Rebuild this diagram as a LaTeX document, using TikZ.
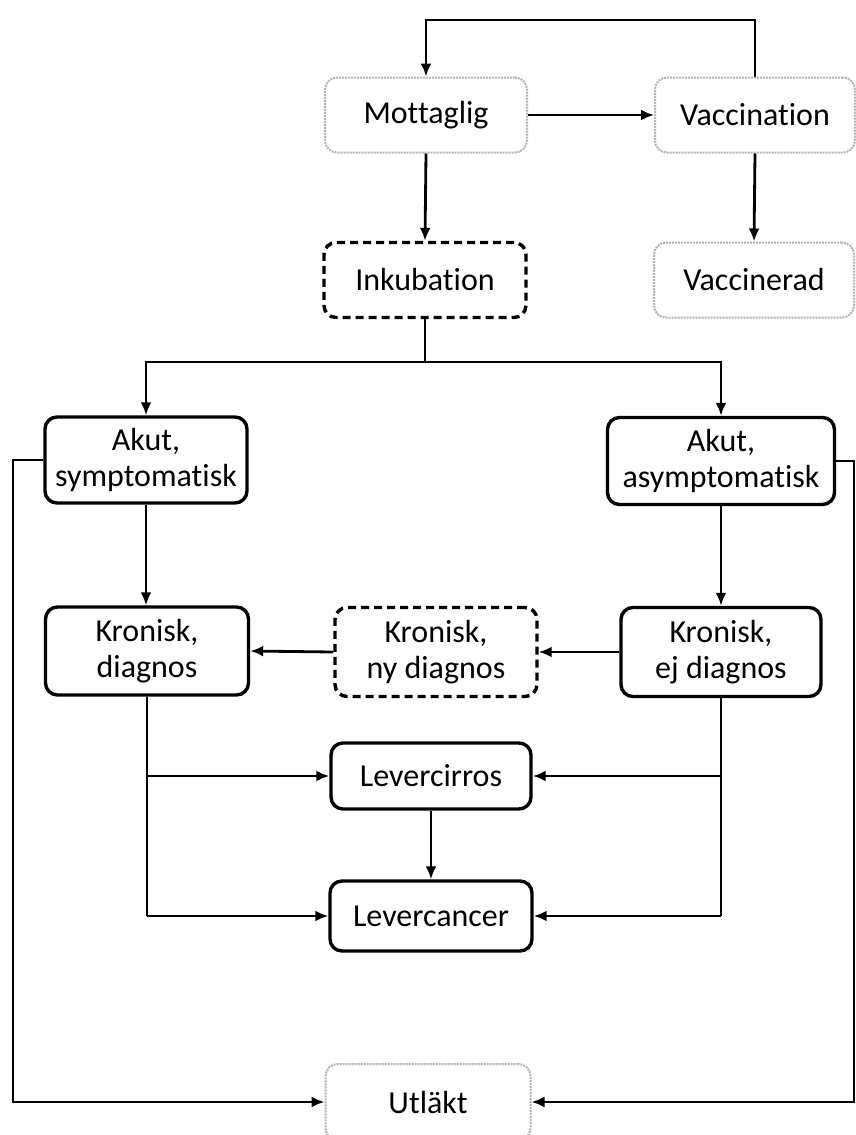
\documentclass[tikz,border=0pt]{standalone}
\usepackage{fontspec}
\setmainfont{Carlito}[Ligatures=NoCommon]
\usetikzlibrary{arrows.meta}
\begin{document}
\begin{tikzpicture}[x=1pt,y=-1pt,
  box/.style={draw, line width=3.4pt, rounded corners=12pt, align=center, inner sep=0pt,
    font=\fontsize{32}{36}\selectfont},
  softbox/.style={box, draw=gray!60, line width=2pt, densely dotted},
  dashbox/.style={box, dash pattern=on 8pt off 5pt},
  conn/.style={line width=2.8pt, -{Latex[length=13pt,width=11pt]}},
  line/.style={line width=2.8pt}]
\useasboundingbox (0,0) rectangle (856,1135);
\node[softbox, minimum width=202pt, minimum height=75pt] (mott) at (426,115) {Mottaglig};
\node[softbox, minimum width=200pt, minimum height=75pt] (vacc) at (755,115) {Vaccination};
\node[dashbox, minimum width=202pt, minimum height=75pt] (inkub) at (425,280) {Inkubation};
\node[softbox, minimum width=200pt, minimum height=75pt] (vaccd) at (754,280) {Vaccinerad};
\node[box, minimum width=202pt, minimum height=86pt] (akuts) at (146,460) {Akut,\\symptomatisk};
\node[box, minimum width=227pt, minimum height=87pt] (akuta) at (721,461) {Akut,\\asymptomatisk};
\node[box, minimum width=203pt, minimum height=88pt] (krond) at (147,651) {Kronisk,\\diagnos};
\node[dashbox, minimum width=202pt, minimum height=89pt] (kronny) at (436,652) {Kronisk,\\ny diagnos};
\node[box, minimum width=200pt, minimum height=89pt] (kronej) at (721,652) {Kronisk,\\ej diagnos};
\node[box, minimum width=200pt, minimum height=66pt] (levcir) at (431,776) {Levercirros};
\node[box, minimum width=202pt, minimum height=70pt] (levcan) at (431,916) {Levercancer};
\node[softbox, minimum width=205pt, minimum height=76pt] (utl) at (428,1102) {Utläkt};
% top loop
\coordinate (t1) at (755,20);
\coordinate (t2) at (426,20);
\draw[conn] (vacc.north) -- (t1) -- (t2) -- (mott.north);
\draw[conn] (mott.east) -- (vacc.west);
\draw[conn] (vacc.south) -- (vaccd.north);
\draw[conn] (mott.south) -- (inkub.south |- inkub.north);
% split
\coordinate (sp) at (425,362);
\draw[line] (inkub.south) -- (sp);
\draw[conn] (sp) -| (akuts.north);
\draw[conn] (sp) -| (akuta.north);
\draw[conn] (akuts.south) -- (akuts.south |- krond.north);
\draw[conn] (akuta.south) -- (akuta.south |- kronej.north);
\draw[conn] (kronej.west) -- (kronny.east);
\draw[conn] (kronny.west) -- (krond.east);
% liver branches
\coordinate (lb1) at (147,776);
\coordinate (lb2) at (147,916);
\coordinate (rb1) at (721,776);
\coordinate (rb2) at (721,916);
\draw[line] (krond.south) -- (lb2);
\draw[conn] (lb1) -- (levcir.west);
\draw[conn] (lb2) -- (levcan.west);
\draw[line] (kronej.south) -- (rb2);
\draw[conn] (rb1) -- (levcir.east);
\draw[conn] (rb2) -- (levcan.east);
\draw[conn] (levcir.south) -- (levcan.north);
% recovery loops
\coordinate (l1) at (13,460);
\coordinate (l2) at (13,1102);
\draw[conn] (akuts.west) -- (l1) -- (l2) -- (utl.west);
\coordinate (r1) at (854,461);
\coordinate (r2) at (854,1102);
\draw[conn] (akuta.east) -- (r1) -- (r2) -- (utl.east);
\end{tikzpicture}
\end{document}
